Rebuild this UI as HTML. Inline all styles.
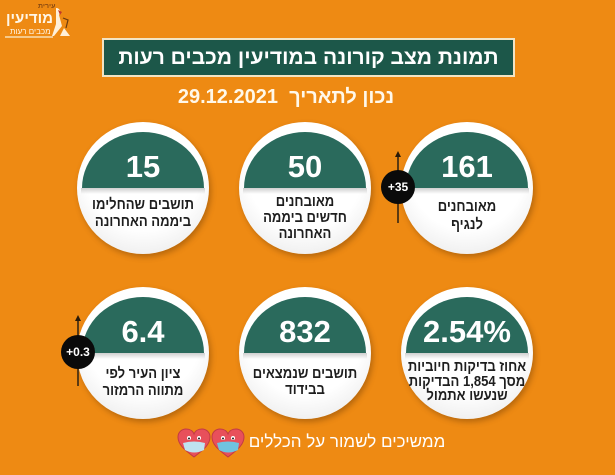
<!DOCTYPE html>
<html>
<head>
<meta charset="utf-8">
<style>
  html,body{margin:0;padding:0;}
  body{width:615px;height:475px;background:#EE8A13;position:relative;overflow:hidden;
    font-family:"Liberation Sans","DejaVu Sans",sans-serif;}
  .abs{position:absolute;}
  .title{position:absolute;left:102px;top:38px;width:409px;height:35px;background:#1c5749;
    border:2px solid #f2e4c4;color:#fff;font-weight:bold;font-size:21px;line-height:35px;
    text-align:center;direction:rtl;}
  .date{position:absolute;left:110px;top:86px;width:352px;text-align:center;color:#fff8ea;
    font-weight:bold;font-size:20px;line-height:22px;direction:rtl;}
  .c{position:absolute;width:132px;height:132px;border-radius:50%;
    background:radial-gradient(circle at 50% 38%, #ffffff 55%, #efefef 80%, #dedede 100%);
    box-shadow:2px 3px 6px rgba(80,40,0,.35);}
  .g{position:absolute;left:5px;top:10px;width:122px;height:56px;background:#2a6a5c;
    border-radius:61px 61px 0 0 / 56px 56px 0 0;}
  .sh{position:absolute;left:4px;top:66px;width:124px;height:6px;
    background:linear-gradient(#cfcfcf,rgba(255,255,255,0));}
  .n{position:absolute;left:0;top:29px;width:132px;text-align:center;color:#fff;
    font-weight:bold;font-size:31px;line-height:31px;}
  .l{position:absolute;left:-10px;width:152px;text-align:center;color:#1e1e1e;
    font-weight:bold;font-size:15px;line-height:17px;direction:rtl;white-space:nowrap;
    transform:scaleX(0.87);transform-origin:50% 50%;}
  .badge{position:absolute;width:34px;height:34px;border-radius:50%;background:#0a0a0a;
    color:#fff;font-weight:bold;font-size:12px;line-height:34px;text-align:center;
    direction:ltr;unicode-bidi:bidi-override;}
  .vl{position:absolute;width:2px;background:#5b3a12;}
  .arr{position:absolute;width:0;height:0;border-left:3px solid transparent;
    border-right:3px solid transparent;border-bottom:6px solid #2a1a08;}
  .foot{position:absolute;left:246px;top:432px;width:202px;text-align:center;color:#fff;
    font-size:17px;line-height:20px;direction:rtl;white-space:nowrap;}
</style>
</head>
<body>

<!-- logo -->
<div class="abs" style="left:38px;top:3px;font-size:7px;color:#8a4a10;font-weight:bold;direction:rtl;">עירית</div>
<div class="abs" style="left:6px;top:11px;font-size:15px;color:#fff6e6;font-weight:bold;direction:rtl;line-height:16px;">מודיעין</div>
<div class="abs" style="left:10px;top:27px;font-size:8px;color:#fff6e6;direction:rtl;line-height:9px;">מכבים רעות</div>
<div class="abs" style="left:5px;top:36px;width:48px;height:2px;background:#f6c98a;"></div>
<svg class="abs" style="left:48px;top:6px" width="24" height="32" viewBox="0 0 24 32">
  <path d="M8 2 C12 2 13 6 11 9 L14 20 L6 30 L4 30 L8 18 Z" fill="#fff0d8"/>
  <path d="M10 4 L14 6 L12 9 Z" fill="#c0392b"/>
  <path d="M16 22 L22 30 L12 30 Z" fill="#fff0d8"/>
  <path d="M15 12 L20 14 L18 22" stroke="#6b3b10" stroke-width="1.2" fill="none"/>
</svg>

<div class="title">תמונת מצב קורונה במודיעין מכבים רעות</div>
<div class="date">נכון לתאריך&nbsp; 29.12.2021</div>

<!-- top row -->
<div class="c" style="left:77px;top:122px">
  <div class="g"></div><div class="sh"></div>
  <div class="n">15</div>
  <div class="l" style="top:74px;">תושבים שהחלימו<br>ביממה האחרונה</div>
</div>
<div class="c" style="left:239px;top:122px">
  <div class="g"></div><div class="sh"></div>
  <div class="n">50</div>
  <div class="l" style="top:72px;line-height:16px;">מאובחנים<br>חדשים ביממה<br>האחרונה</div>
</div>
<div class="c" style="left:401px;top:122px">
  <div class="g"></div><div class="sh"></div>
  <div class="n">161</div>
  <div class="l" style="top:76px;line-height:18px;">מאובחנים<br>לנגיף</div>
</div>

<!-- +35 badge -->
<div class="vl" style="left:397px;top:155px;height:68px;"></div>
<div class="arr" style="left:395px;top:151px;"></div>
<div class="badge" style="left:381px;top:170px;">+35</div>

<!-- bottom row -->
<div class="c" style="left:77px;top:287px">
  <div class="g"></div><div class="sh"></div>
  <div class="n">6.4</div>
  <div class="l" style="top:78px;">ציון העיר לפי<br>מתווה הרמזור</div>
</div>
<div class="c" style="left:239px;top:287px">
  <div class="g"></div><div class="sh"></div>
  <div class="n">832</div>
  <div class="l" style="top:79px;line-height:16px;">תושבים שנמצאים<br>בבידוד</div>
</div>
<div class="c" style="left:401px;top:287px">
  <div class="g"></div><div class="sh"></div>
  <div class="n">2.54%</div>
  <div class="l" style="top:73px;line-height:14.5px;">אחוז בדיקות חיוביות<br>מסך 1,854 הבדיקות<br>שנעשו אתמול</div>
</div>

<!-- +0.3 badge -->
<div class="vl" style="left:77px;top:319px;height:67px;"></div>
<div class="arr" style="left:75px;top:315px;"></div>
<div class="badge" style="left:61px;top:335px;">+0.3</div>

<!-- hearts -->
<svg class="abs" style="left:177px;top:428px" width="70" height="30" viewBox="0 0 70 30">
  <g>
    <path d="M17 29 C8 22 1 17 1 9 C1 4 5 1 9 1 C13 1 16 3 17 6 C18 3 21 1 25 1 C29 1 33 4 33 9 C33 17 26 22 17 29 Z" fill="#e8505b" stroke="#c23a44" stroke-width="1"/>
    <path d="M6 15 Q17 12 28 15 L27 22 Q17 27 8 22 Z" fill="#bfe3f0"/>
    <circle cx="12" cy="10" r="2" fill="#fff"/><circle cx="22" cy="10" r="2" fill="#fff"/>
    <circle cx="12" cy="10.5" r="1" fill="#222"/><circle cx="22" cy="10.5" r="1" fill="#222"/>
  </g>
  <g transform="translate(34,0)">
    <path d="M17 29 C8 22 1 17 1 9 C1 4 5 1 9 1 C13 1 16 3 17 6 C18 3 21 1 25 1 C29 1 33 4 33 9 C33 17 26 22 17 29 Z" fill="#e8505b" stroke="#c23a44" stroke-width="1"/>
    <path d="M6 15 Q17 12 28 15 L27 22 Q17 27 8 22 Z" fill="#6fc3e0"/>
    <circle cx="12" cy="10" r="2" fill="#fff"/><circle cx="22" cy="10" r="2" fill="#fff"/>
    <circle cx="12" cy="10.5" r="1" fill="#222"/><circle cx="22" cy="10.5" r="1" fill="#222"/>
  </g>
</svg>
<div class="foot">ממשיכים לשמור על הכללים</div>

</body>
</html>
